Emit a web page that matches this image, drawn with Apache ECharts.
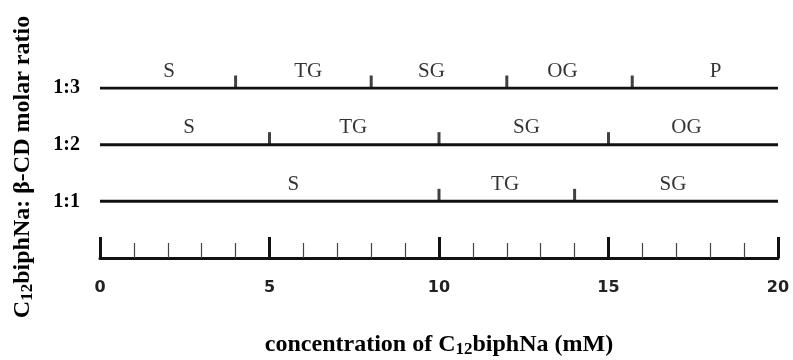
<!DOCTYPE html>
<html>
<head>
<meta charset="utf-8">
<script src="https://cdn.jsdelivr.net/npm/echarts@6/dist/echarts.min.js"></script>
<style>
  html, body { margin: 0; padding: 0; background: #fff; }
  #chart { width: 793px; height: 360px; }
</style>
</head>
<body>
<div id="chart"></div>
<script>
// Concentration axis (mM)
const xMin = 0;
const xMax = 20;
const xInterval = 5;

// Molar ratio rows, bottom to top
const rowLabels = ['1:1', '1:2', '1:3'];

// Phase boundaries (mM) for each row
const bounds11 = [10, 14];
const bounds12 = [5, 10, 15];
const bounds13 = [4, 8, 12, 15.7];

// Phase names and where their labels sit (mM) for each row
const phases11 = ['S', 'TG', 'SG'];
const phasePos11 = [5.7, 11.95, 16.9];
const phases12 = ['S', 'TG', 'SG', 'OG'];
const phasePos12 = [2.63, 7.47, 12.58, 17.3];
const phases13 = ['S', 'TG', 'SG', 'OG', 'P'];
const phasePos13 = [2.04, 6.14, 9.78, 13.64, 18.16];

const allBounds = [bounds11, bounds12, bounds13];
const allPhases = [phases11, phases12, phases13];
const allPhasePos = [phasePos11, phasePos12, phasePos13];

const serif = '"Liberation Serif", "Times New Roman", serif';
const ink = '#111';

function subStyle(size, drop) {
  return {
    fontFamily: serif, fontWeight: 'bold', fontSize: size,
    verticalAlign: 'top', padding: [drop, 0, 0, 0]
  };
}

// One baseline per ratio row
const rowLineSeries = rowLabels.map((lab, i) => ({
  type: 'line',
  name: lab,
  data: [[xMin, i + 1], [xMax, i + 1]],
  symbol: 'none',
  silent: true,
  lineStyle: { color: ink, width: 3 },
  z: 2
}));

// Boundary markers sitting on top of each row line
const boundaryData = [];
allBounds.forEach((arr, i) => arr.forEach(v => boundaryData.push([v, i + 1])));

// Phase name labels
const phaseData = [];
allPhases.forEach((names, i) =>
  names.forEach((nm, j) => phaseData.push({ value: [allPhasePos[i][j], i + 1], name: nm })));

const chart = echarts.init(document.getElementById('chart'), null, { renderer: 'canvas' });
chart.setOption({
  animation: false,
  backgroundColor: '#fff',
  grid: { left: 100, right: 15, top: 88, bottom: 102, containLabel: false },
  xAxis: {
    type: 'value',
    min: xMin,
    max: xMax,
    interval: xInterval,
    name: 'concentration of C{sub|12}biphNa (mM)',
    nameLocation: 'middle',
    nameGap: 73,
    nameTextStyle: {
      fontFamily: serif, fontWeight: 'bold', fontSize: 24, color: '#000',
      rich: { sub: subStyle(17, 10) }
    },
    axisLine: { show: true, lineStyle: { color: ink, width: 3 } },
    axisTick: { show: true, inside: true, length: 21, lineStyle: { color: ink, width: 3 } },
    minorTick: { show: true, splitNumber: 5, length: 15, lineStyle: { color: '#444', width: 1.2 } },
    axisLabel: {
      margin: 22,
      fontFamily: '"DejaVu Sans", sans-serif', fontWeight: 'bold', fontSize: 16, color: '#222'
    },
    splitLine: { show: false }
  },
  yAxis: {
    type: 'value',
    min: 0,
    max: rowLabels.length,
    interval: 1,
    name: 'C{sub|12}biphNa: β-CD molar ratio',
    nameLocation: 'middle',
    nameRotate: 90,
    nameGap: 64,
    nameTextStyle: {
      fontFamily: serif, fontWeight: 'bold', fontSize: 24, color: '#000',
      padding: [0, 0, 0, 12],
      rich: { sub: subStyle(17, 10) }
    },
    axisLine: { show: false },
    axisTick: { show: false },
    splitLine: { show: false },
    axisLabel: {
      margin: 20,
      fontFamily: serif, fontWeight: 'bold', fontSize: 20, color: '#000',
      formatter: v => rowLabels[v - 1] || ''
    }
  },
  series: [
    ...rowLineSeries,
    {
      type: 'scatter',
      name: 'boundaries',
      data: boundaryData,
      symbol: 'rect',
      symbolSize: [3, 13],
      symbolOffset: [0, -6],
      itemStyle: { color: ink },
      silent: true,
      z: 3
    },
    {
      type: 'scatter',
      name: 'phases',
      data: phaseData,
      symbolSize: 1,
      itemStyle: { color: 'rgba(0,0,0,0)' },
      silent: true,
      label: {
        show: true,
        position: 'inside',
        offset: [0, -17],
        formatter: p => p.name,
        fontFamily: serif, fontSize: 21, color: '#000'
      },
      z: 4
    }
  ]
});
</script>
</body>
</html>
